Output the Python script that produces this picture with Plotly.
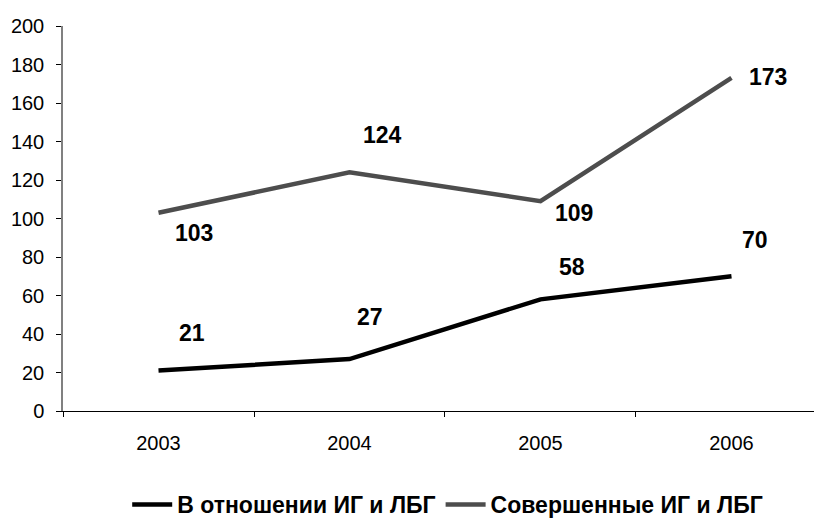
import plotly.graph_objects as go

years = ["2003", "2004", "2005", "2006"]
toward = [21, 27, 58, 70]        # В отношении ИГ и ЛБГ
committed = [103, 124, 109, 173]  # Совершенные ИГ и ЛБГ

name_toward = "В отношении ИГ и ЛБГ"
name_committed = "Совершенные ИГ и ЛБГ"

xpos = list(range(len(years)))

BLACK = "#000000"
GRAY = "#4d4d4d"

fig = go.Figure()
fig.add_trace(go.Scatter(x=xpos, y=toward, mode="lines", name=name_toward,
                         line=dict(color=BLACK, width=4.5)))
fig.add_trace(go.Scatter(x=xpos, y=committed, mode="lines", name=name_committed,
                         line=dict(color=GRAY, width=4.5)))

# value labels, nudged off the lines (pixel offsets)
shift_toward = [(33, 38), (20, 42), (32, 32), (24, 36)]
shift_committed = [(35, -20), (33, 37), (34, -12), (37, 1)]
label_font = dict(family="Liberation Sans, Arial", size=23, color="#000000")
for vals, shifts in ((toward, shift_toward), (committed, shift_committed)):
    for x, v, (dx, dy) in zip(xpos, vals, shifts):
        fig.add_annotation(x=x, y=v, xref="x", yref="y", text=f"<b>{v}</b>",
                           showarrow=False, xshift=dx, yshift=dy, font=label_font)

xrange = [-0.5, 3.432]
tick_font = dict(family="Liberation Sans, Arial", size=20, color="#000000")

fig.update_layout(
    width=814, height=519,
    margin=dict(l=63, r=0, t=26, b=107.5),
    paper_bgcolor="white", plot_bgcolor="white",
    showlegend=True,
    legend=dict(orientation="h", xref="container", x=0.55, xanchor="center",
                yref="container", y=0.028, yanchor="middle",
                font=dict(family="Liberation Sans, Arial", size=23, color="#000000",
                          weight="bold"),
                itemwidth=40, tracegroupgap=0),
    xaxis=dict(range=xrange, showgrid=False, zeroline=False,
               showline=True, linecolor="#000000", linewidth=1,
               tickmode="array", tickvals=[-0.5, 0.5, 1.5, 2.5],
               ticktext=["", "", "", ""], ticks="outside", ticklen=5,
               tickcolor="#000000"),
    xaxis2=dict(range=xrange, overlaying="x", side="bottom", showgrid=False,
                zeroline=False, showline=False, tickmode="array",
                tickvals=xpos, ticktext=years, ticks="",
                ticklabelstandoff=18, tickfont=tick_font),
    yaxis=dict(range=[0, 200], tickmode="array", tickvals=list(range(0, 201, 20)),
               showgrid=False, zeroline=False, showline=True,
               linecolor="#808080", linewidth=1.5, ticks="outside", ticklen=5,
               tickcolor="#000000", tickfont=tick_font, ticklabelstandoff=8),
)

# invisible carrier trace so the year axis is rendered
fig.add_trace(go.Scatter(x=xpos, y=[None] * len(xpos), xaxis="x2", mode="lines",
                         showlegend=False, hoverinfo="skip"))

fig.write_html("out.html")
